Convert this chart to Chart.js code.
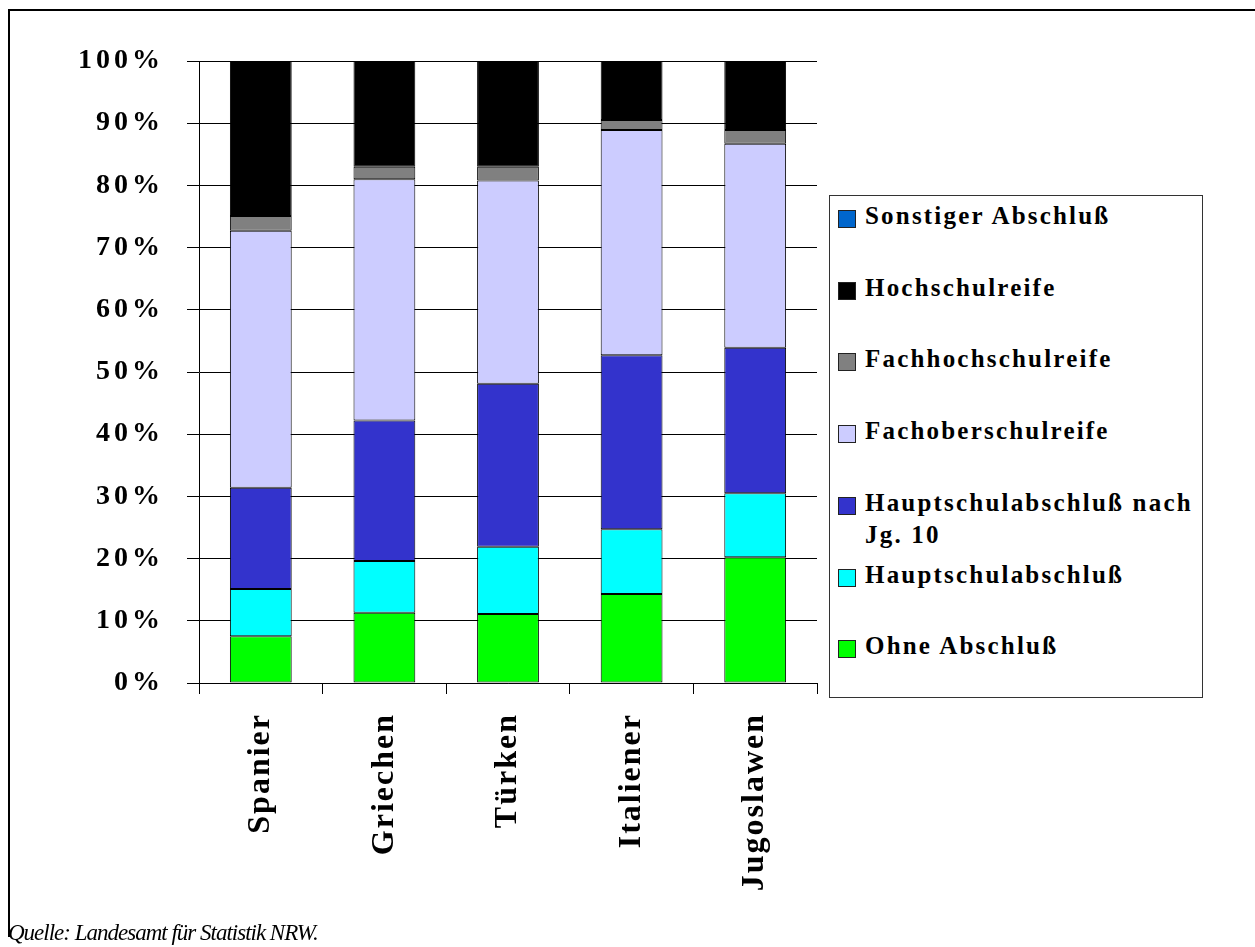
<!DOCTYPE html>
<html>
<head>
<meta charset="utf-8">
<script src="https://cdn.jsdelivr.net/npm/chart.js@4"></script>
<style>
  html, body { margin: 0; padding: 0; background: #fff; }
  body { width: 1255px; height: 947px; position: relative; overflow: hidden; }
  #frame { position: absolute; left: 8px; top: 9px; width: 1300px; height: 926px;
           border-top: 2.5px solid #000; border-left: 2.5px solid #000; }
  #chart { position: absolute; left: 0; top: 0; }
  #legend { position: absolute; left: 829px; top: 195px; width: 372px; height: 501px;
            border: 1.5px solid #333; background: #fff; }
  .item { position: absolute; left: 0; width: 372px; }
  .box { position: absolute; left: 8px; top: 10px; width: 16px; height: 16px; border: 1px solid #222; }
  .txt { position: absolute; left: 35px; width: 336px; font: bold 25px "Liberation Serif", serif;
         letter-spacing: 2.2px; line-height: 32px; color: #000; }
  #source { position: absolute; left: 8px; top: 920px; font: italic 23px "Liberation Serif", serif;
            letter-spacing: -1px; color: #000; }
</style>
</head>
<body>
<div id="frame"></div>
<canvas id="chart" width="1255" height="947"></canvas>
<div id="legend"></div>
<div id="source">Quelle: Landesamt für Statistik NRW.</div>
<script>
const categories = ["Spanier", "Griechen", "Türken", "Italiener", "Jugoslawen"];

// Anteile in %, von unten nach oben gestapelt
const ohneAbschluss = [7.5, 11.3, 11.1, 14.3, 20.2];
const hauptschulabschluss = [7.6, 8.3, 10.8, 10.4, 10.3];
const hauptschulNachJg10 = [16.3, 22.6, 26.2, 28.0, 23.4];
const fachoberschulreife = [41.3, 38.8, 32.7, 36.2, 32.8];
const fachhochschulreife = [2.4, 2.0, 2.2, 1.6, 2.2];
const hochschulreife = [24.9, 17.0, 17.0, 9.5, 11.1];
const sonstigerAbschluss = [0, 0, 0, 0, 0];

const yTicks = [0, 10, 20, 30, 40, 50, 60, 70, 80, 90, 100];

const series = [
  { label: "Ohne Abschluß", data: ohneAbschluss, color: "#00FF00" },
  { label: "Hauptschulabschluß", data: hauptschulabschluss, color: "#00FFFF" },
  { label: "Hauptschulabschluß nach Jg. 10", data: hauptschulNachJg10, color: "#3333CC" },
  { label: "Fachoberschulreife", data: fachoberschulreife, color: "#CCCCFF" },
  { label: "Fachhochschulreife", data: fachhochschulreife, color: "#808080" },
  { label: "Hochschulreife", data: hochschulreife, color: "#000000" },
  { label: "Sonstiger Abschluß", data: sonstigerAbschluss, color: "#0066CC" }
];

const datasets = series.map((s) => ({
  label: s.label,
  data: s.data,
  backgroundColor: s.color,
  borderColor: "#000",
  borderWidth: s.data.some((v) => v > 0) ? 1 : 0,
  borderSkipped: false,
  categoryPercentage: 0.5,
  barPercentage: 1.0
}));

// letter spacing for the tick labels (canvas ctx.letterSpacing)
const spacingPlugin = {
  id: "spacing",
  beforeDraw(chart) {
    [["x", "2px"], ["y", "4px"]].forEach(([id, sp]) => {
      const s = chart.scales[id];
      if (s._wrapped) return;
      const orig = s.drawLabels;
      s.drawLabels = function (area) {
        this.ctx.letterSpacing = sp;
        orig.call(this, area);
        this.ctx.letterSpacing = "0px";
      };
      s._wrapped = true;
    });
  }
};

const ctx = document.getElementById("chart").getContext("2d");
const chart = new Chart(ctx, {
  type: "bar",
  data: { labels: categories, datasets: datasets },
  plugins: [spacingPlugin],
  options: {
    responsive: false,
    animation: false,
    devicePixelRatio: 1,
    layout: { padding: { left: 0, top: 61, right: 438, bottom: 0 } },
    plugins: { legend: { display: false }, tooltip: { enabled: false } },
    scales: {
      x: {
        stacked: true,
        grid: { offset: true, drawOnChartArea: false, drawTicks: true, tickLength: 11, color: "#000", lineWidth: 1 },
        border: { display: true, color: "#000", width: 1 },
        ticks: {
          minRotation: 90, maxRotation: 90, padding: 19, color: "#000",
          font: { family: "Liberation Serif", weight: "bold", size: 32 }
        },
        afterFit: (s) => { s.height = 264; }
      },
      y: {
        stacked: true,
        min: 0,
        max: 100,
        afterBuildTicks: (s) => { s.ticks = yTicks.map((v) => ({ value: v })); },
        grid: { color: "#000", lineWidth: 1, tickLength: 12, drawTicks: true },
        border: { display: true, color: "#000", width: 1 },
        ticks: {
          padding: 23, color: "#000",
          font: { family: "Liberation Serif", weight: "bold", size: 28 },
          callback: (v) => v + "%"
        },
        afterFit: (s) => { s.width = 199; }
      }
    }
  }
});

// legend box, top to bottom = reverse stacking order
const legend = document.getElementById("legend");
series.slice().reverse().forEach((s, i) => {
  const item = document.createElement("div");
  item.className = "item";
  item.style.top = (4 + i * 71.7) + "px";
  const box = document.createElement("div");
  box.className = "box";
  box.style.background = s.color;
  const txt = document.createElement("div");
  txt.className = "txt";
  txt.textContent = s.label;
  item.appendChild(box);
  item.appendChild(txt);
  legend.appendChild(item);
});
</script>
</body>
</html>
